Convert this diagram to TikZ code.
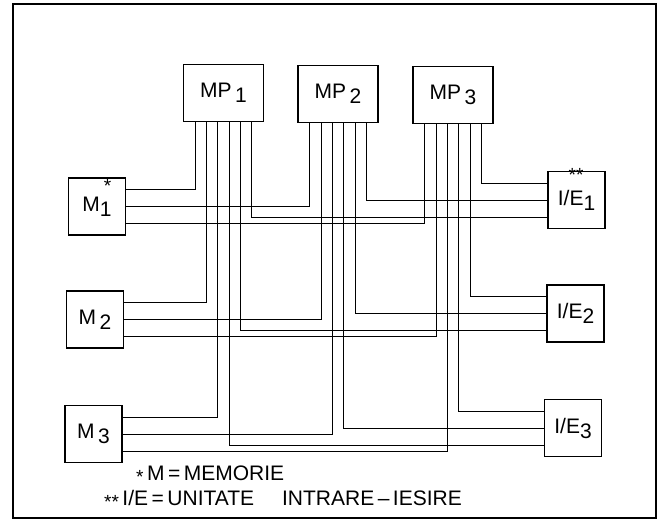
\documentclass[tikz,border=0pt]{standalone}
\usepackage{fontspec}
\setmainfont{Liberation Sans}
\usetikzlibrary{positioning}
\newcommand{\lowidx}[1]{\raisebox{-0.45ex}{#1}}
\newcommand{\starmark}[1]{{\fontsize{19}{19}\selectfont #1}}
\newcommand{\starat}[2]{\smash{\raisebox{#1}{\starmark{#2}}}}
\tikzset{
  procbox/.style={draw, line width=1.7pt, minimum width=80pt, minimum height=57pt,
                  inner sep=0pt, font=\fontsize{21}{23}\selectfont},
  unitbox/.style={draw, line width=1.7pt, minimum width=57pt, minimum height=57pt,
                  inner sep=0pt, font=\fontsize{21}{23}\selectfont},
  wire/.style={line width=0.8pt},
  legend/.style={anchor=west, inner sep=0pt, font=\fontsize{21}{23}\selectfont},
}

\begin{document}
\begin{tikzpicture}[x=1pt, y=-1pt]
    \useasboundingbox (0,0) rectangle (660,522);
    % frame
    \draw[line width=1.6pt] (13,4) rectangle (656,518);
    % processors
    \node[procbox] (mp1) at (223.5,93) {MP\,\lowidx{1}};
    \node[procbox] (mp2) at (338,94) {MP\,\lowidx{2}};
    \node[procbox] (mp3) at (453,95) {MP\,\lowidx{3}};
    % memories
    \node[unitbox] (m1) at (97,206.5) {M\lowidx{1}\llap{\starat{1.7ex}{*}\hspace{0.02em}}};
    \node[unitbox] (m2) at (95,319.5) {M\,\lowidx{2}};
    \node[unitbox] (m3) at (93.5,434) {M\,\lowidx{3}};
    % input/output units
    \node[unitbox] (ie1) at (576.5,200) {I/E\llap{\starat{2.1ex}{**}}\lowidx{1}};
    \node[unitbox] (ie2) at (575.5,313.5) {I/E\lowidx{2}};
    \node[unitbox] (ie3) at (573,428) {I/E\lowidx{3}};
    % buses
    \foreach \k in {1,2,3}
      \foreach \i in {1,2,3} {
        \draw[wire] ([yshift={(2-\i)*17pt}]m\k.east) -| ([xshift={(\k-3.5)*11.3pt}]mp\i.south);
        \draw[wire] ([yshift={(\i-2)*17pt}]ie\k.west) -| ([xshift={(3.5-\k)*11.3pt}]mp\i.south);
      }
    % legend
    \node[legend] (leg1) at (136,473) {\starat{-0.25ex}{*}\,M\,=\,MEMORIE};
    \node[legend] (leg2) at (104,498) {\starat{-0.25ex}{**}\,I/E\,=\,UNITATE\hspace{28pt}INTRARE\,--\,IESIRE};
\end{tikzpicture}
\end{document}
